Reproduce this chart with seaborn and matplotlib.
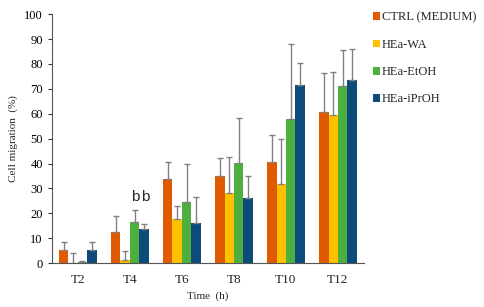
import numpy as np
import pandas as pd
import matplotlib
matplotlib.use("Agg")
import matplotlib.pyplot as plt
import seaborn as sns

# ---- data ----
times = ["T2", "T4", "T6", "T8", "T10", "T12"]
groups = ["CTRL (MEDIUM)", "HEa-WA", "HEa-EtOH", "HEa-iPrOH"]

ctrl = [5.2, 12.3, 33.7, 35.0, 40.8, 60.5]
wa = [0.0, 1.2, 17.6, 28.0, 31.7, 59.6]
etoh = [0.3, 16.7, 24.6, 40.2, 58.0, 71.0]
iproh = [5.3, 13.5, 16.3, 26.1, 71.5, 73.6]

# top of the (upper-only) error bars
ctrl_top = [8.3, 19.0, 40.6, 42.3, 51.4, 76.3]
wa_top = [4.2, 5.0, 23.0, 42.5, 49.8, 76.6]
etoh_top = [1.0, 21.2, 40.0, 58.3, 87.8, 85.5]
iproh_top = [8.6, 15.6, 26.6, 35.0, 80.2, 86.0]

colors = ["#E05A00", "#FFC000", "#4DAF3E", "#0D4C7A"]

values = [ctrl, wa, etoh, iproh]
tops = [ctrl_top, wa_top, etoh_top, iproh_top]
rows = []
for g, vals, tp in zip(groups, values, tops):
    for t, v, e in zip(times, vals, tp):
        rows.append({"time": t, "group": g, "value": v, "err": e - v})
df = pd.DataFrame(rows)

# ---- plot ----
sns.set_style("ticks")
plt.rcParams["font.family"] = ["Liberation Serif", "DejaVu Serif"]

fig = plt.figure(figsize=(4.84, 3.07), dpi=100)
ax = fig.add_axes([0.107, 0.143, 0.645, 0.811])

sns.barplot(data=df, x="time", y="value", hue="group", order=times,
            hue_order=groups, palette=colors, width=0.72, errorbar=None,
            saturation=1, linewidth=0, ax=ax)

# one-sided error bars, placed on the bars seaborn drew
for cont, g in zip(ax.containers, groups):
    sub = df[df["group"] == g].set_index("time").loc[times]
    xs = [p.get_x() + p.get_width() / 2 for p in cont.patches]
    ax.errorbar(xs, sub["value"], yerr=[np.zeros(len(times)), sub["err"]],
                fmt="none", ecolor="#808080", elinewidth=1.0, capsize=2.2,
                capthick=1.0)

# significance letters over T4 EtOH / iPrOH
for cont in ax.containers[2:4]:
    p = cont.patches[1]
    ax.text(p.get_x() + p.get_width() / 2 + 0.02, 26.5, "b", ha="center",
            va="center", fontsize=11, family="Liberation Sans")

ax.set_ylim(0, 100)
ax.set_yticks(range(0, 101, 10))
ax.set_xlim(-0.5, 5.5)
ax.tick_params(axis="y", labelsize=9, length=3, width=0.8, colors="#333333",
               labelcolor="black")
ax.tick_params(axis="x", labelsize=9.5, length=0, pad=8)
ax.set_xlabel("Time  (h)", fontsize=8)
ax.set_ylabel("Cell migration  (%)", fontsize=8)
for s in ["top", "right"]:
    ax.spines[s].set_visible(False)
for s in ["left", "bottom"]:
    ax.spines[s].set_color("#555555")
    ax.spines[s].set_linewidth(0.8)

ax.legend(loc="upper left", bbox_to_anchor=(1.0, 1.045), frameon=False,
          fontsize=9, handlelength=0.55, handleheight=0.55,
          handletextpad=0.2, labelspacing=1.22, borderaxespad=0.3)

fig.savefig("out.png", dpi=100)
